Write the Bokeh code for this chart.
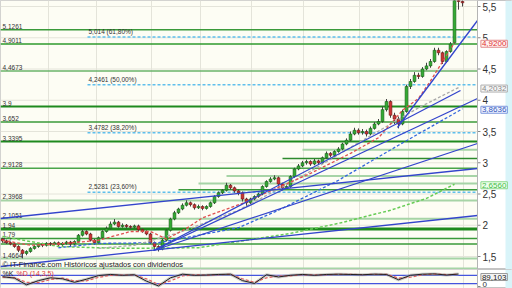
from bokeh.plotting import figure
from bokeh.models import Range1d, Span, Label, BoxAnnotation
from bokeh.layouts import column
from bokeh.embed import file_html
from bokeh.resources import INLINE
from bokeh.core.properties import value

# ---------------- data ----------------
opens = [1.78,1.75,1.72,1.70,1.66,1.60,1.55,1.58,1.63,1.66,1.70,1.68,1.71,1.70,1.72,1.69,1.71,1.73,1.70,1.74,
         1.84,1.90,1.86,1.76,1.72,1.80,1.90,1.95,2.02,2.05,1.98,2.00,1.98,1.97,1.99,1.93,1.90,1.86,1.72,1.66,
         1.62,1.76,1.92,2.10,2.20,2.26,2.32,2.36,2.33,2.28,2.30,2.27,2.30,2.36,2.46,2.52,2.56,2.64,2.60,2.55,
         2.52,2.42,2.36,2.42,2.46,2.50,2.62,2.70,2.74,2.76,2.66,2.60,2.62,2.78,2.90,2.95,3.00,3.02,2.98,3.03,
         3.00,3.08,3.15,3.12,3.18,3.22,3.30,3.36,3.46,3.52,3.48,3.50,3.46,3.55,3.62,3.66,3.85,3.98,3.76,3.70,
         3.62,3.82,4.22,4.30,4.40,4.38,4.50,4.55,4.62,4.80,4.76,4.62,4.78,4.92,5.60,5.58]
closes = [1.75,1.72,1.70,1.66,1.60,1.55,1.58,1.63,1.66,1.70,1.68,1.71,1.70,1.72,1.69,1.71,1.73,1.70,1.74,1.84,
          1.90,1.86,1.76,1.72,1.80,1.90,1.95,2.02,2.05,1.98,2.00,1.98,1.97,1.99,1.93,1.90,1.86,1.72,1.66,1.62,
          1.76,1.92,2.10,2.20,2.26,2.32,2.36,2.33,2.28,2.30,2.27,2.30,2.36,2.46,2.52,2.56,2.64,2.60,2.55,2.52,
          2.42,2.36,2.42,2.46,2.50,2.62,2.70,2.74,2.76,2.66,2.60,2.62,2.78,2.90,2.95,3.00,3.02,2.98,3.03,3.00,
          3.08,3.15,3.12,3.18,3.22,3.30,3.36,3.46,3.52,3.48,3.50,3.46,3.55,3.62,3.66,3.85,3.98,3.76,3.70,3.62,
          3.82,4.22,4.30,4.40,4.38,4.50,4.55,4.62,4.80,4.76,4.62,4.78,4.90,5.62,5.58,5.56]
highs = [1.80,1.77,1.74,1.71,1.68,1.62,1.60,1.65,1.68,1.72,1.72,1.73,1.73,1.74,1.74,1.73,1.75,1.75,1.76,1.86,
         1.93,1.92,1.88,1.78,1.82,1.92,1.98,2.06,2.10,2.07,2.03,2.02,2.00,2.01,2.01,1.95,1.92,1.88,1.74,1.68,
         1.78,1.94,2.12,2.23,2.28,2.35,2.40,2.38,2.35,2.33,2.32,2.32,2.38,2.48,2.54,2.58,2.68,2.66,2.62,2.57,
         2.54,2.44,2.44,2.48,2.52,2.64,2.72,2.77,2.80,2.78,2.68,2.64,2.80,2.92,2.98,3.03,3.05,3.04,3.06,3.05,
         3.10,3.18,3.17,3.20,3.25,3.32,3.39,3.50,3.56,3.55,3.54,3.53,3.58,3.65,3.70,3.90,4.02,4.00,3.80,3.74,
         3.85,4.25,4.34,4.45,4.44,4.53,4.60,4.66,4.84,4.84,4.78,4.80,4.93,5.66,5.64,5.60]
lows = [1.72,1.70,1.68,1.64,1.57,1.47,1.52,1.56,1.61,1.64,1.65,1.66,1.67,1.68,1.66,1.67,1.69,1.65,1.68,1.72,
        1.82,1.84,1.74,1.69,1.70,1.78,1.88,1.93,2.00,1.96,1.96,1.95,1.94,1.95,1.90,1.88,1.84,1.70,1.62,1.58,
        1.60,1.74,1.90,2.08,2.18,2.24,2.30,2.30,2.25,2.26,2.24,2.25,2.28,2.34,2.44,2.50,2.54,2.57,2.52,2.48,
        2.38,2.30,2.34,2.40,2.44,2.48,2.60,2.68,2.72,2.62,2.56,2.58,2.60,2.76,2.88,2.93,2.97,2.95,2.96,2.97,
        2.98,3.06,3.09,3.10,3.16,3.20,3.28,3.34,3.44,3.45,3.45,3.42,3.44,3.53,3.60,3.64,3.82,3.72,3.62,3.55,
        3.60,3.80,4.18,4.28,4.34,4.36,4.48,4.52,4.60,4.72,4.58,4.60,4.76,4.90,5.45,5.50]

month_starts = [11.5, 23.5, 37.25, 49.5, 62.25, 75.25, 89.25, 101.5, 115.25]
price_ticks = [1.5, 2, 2.5, 3, 3.5, 4, 4.5, 5, 5.5]
price_tick_labels = ["1,5", "2", "2,5", "3", "3,5", "4", "4,5", "5", "5,5"]

level_values = [5.1261, 4.9011, 4.4673, 3.9, 3.652, 3.3395, 2.9128, 2.3968, 2.1051, 1.94, 1.79, 1.7, 1.4664, 1.31]
level_labels = ["5,1261", "4,9011", "4,4673", "3,9", "3,652", "3,3395", "2,9128", "2,3968", "2,1051",
                "1,94", "1,79", "1,7", "1,4664", ""]
level_colors = ["#3a9a3a", "#2e9a2e", "#6ab36a", "#1e8a1e", "#3a9a3a", "#1e8a1e", "#4aa54a", "#a6d4a6",
                "#a6d4a6", "#1e8a1e", "#3a9a3a", "#3a9a3a", "#a6d4a6", "#a6d4a6"]
level_widths = [1.5, 1.5, 1.5, 2, 1.5, 2, 1.5, 2, 2, 3, 1.5, 1.5, 2, 2]

seg_start = [70, 75, 56, 49, 44]
seg_level = [3.07, 3.21, 2.79, 2.67, 2.57]
seg_colors = ["#2e8b2e", "#a6d4a6", "#a6d4a6", "#a6d4a6", "#3a9a3a"]
seg_widths = [1.5, 2, 2, 2, 1.5]

fib_start = 21.25
fib_values = [5.014, 4.2461, 3.4782, 2.5281]
fib_labels = ["5,014 (61,80%)", "4,2461 (50,00%)", "3,4782 (38,20%)", "2,5281 (23,60%)"]

trend_x0 = [-0.5, -0.5, 37.75, 37.75, 37.75, 98.75]
trend_y0 = [1.34, 2.108, 1.596, 1.596, 1.596, 3.564]
trend_x1 = [118.75, 118.75, 118.75, 118.75, 114.5, 118.75]
trend_y1 = [2.156, 2.908, 3.308, 4.028, 4.156, 5.276]

ma_red_x = [0, 7, 14, 24, 32, 37, 41, 46, 50, 60, 67, 77, 87, 94, 100, 104, 107, 113]
ma_red_y = [1.76, 1.68, 1.70, 1.76, 1.90, 1.90, 1.78, 1.95, 2.12, 2.35, 2.55, 2.83, 3.15, 3.40, 3.84, 4.03, 4.31, 4.92]
ma_gray_x = [24, 33, 44, 59, 74, 89, 104, 114]
ma_gray_y = [1.63, 1.68, 1.88, 2.24, 2.75, 3.32, 3.88, 4.2032]
ma_blue_x = [14, 24, 39, 59, 69, 84, 99, 115]
ma_blue_y = [1.64, 1.71, 1.72, 1.96, 2.24, 2.72, 3.28, 3.8636]
ma_green_x = [0, 14, 29, 49, 72, 84, 97, 106, 113]
ma_green_y = [1.82, 1.66, 1.63, 1.64, 1.87, 2.03, 2.24, 2.43, 2.656]

right_labels = ["4,9200", "4,2032", "3,8636", "2,6560"]
right_values = [4.92, 4.2032, 3.8636, 2.656]

stoch_x = list(range(0, 115, 3))
stoch_k = [70, 60, 12, 42, 62, 55, 30, 52, 78, 86, 80, 84, 38, 4, 62, 88, 80, 82, 86, 88,
           42, 22, 84, 68, 80, 86, 80, 86, 88, 86, 84, 88, 86, 48, 80, 88, 90, 82, 89.103]
stoch_d = [66, 64, 30, 28, 50, 60, 40, 40, 65, 80, 82, 82, 55, 15, 40, 75, 84, 81, 84, 87,
           55, 30, 62, 75, 76, 84, 82, 84, 87, 87, 85, 87, 87, 60, 66, 84, 89, 85, 87]
stoch_levels = [80, 20]
stoch_ticks = [0]
stoch_tick_labels = ["0"]
stoch_value_label = "89,103"

# ---------------- layout constants ----------------
FONT = "Liberation Sans"
X0, XEND = -0.5, 118.75          # chart area (data units)
XR = Range1d(-0.5, 127.5)        # whole 512px width incl. price scale
LBL_X = 120.0
IVORY = "#fdfdf4"
CYAN = "#d9f4f9"


def base_fig(height, yr):
    f = figure(width=512, height=height, x_range=XR, y_range=yr, output_backend="svg",
               toolbar_location=None, x_axis_location=None, y_axis_location=None,
               min_border_left=0, min_border_right=0, min_border_top=0, min_border_bottom=0)
    f.background_fill_color = "white"
    f.border_fill_color = "white"
    f.outline_line_color = "#c4c4c4"
    f.grid.visible = False
    f.add_layout(BoxAnnotation(right=XEND, fill_color=IVORY, fill_alpha=1, line_color=None, level="underlay"))
    f.add_layout(BoxAnnotation(left=125.75, fill_color=CYAN, fill_alpha=1, line_color=None, level="underlay"))
    f.segment(x0=month_starts, y0=[yr.start] * len(month_starts), x1=month_starts,
              y1=[yr.end] * len(month_starts), line_color="#e4e4da", line_width=1)
    f.add_layout(Span(location=XEND, dimension="height", line_color="#b4b4b4", line_width=1))
    return f


# ---------------- main chart ----------------
yr = Range1d(1.292, 5.596)
p = base_fig(269, yr)
n_t = len(price_ticks)
p.segment(x0=[X0] * n_t, y0=price_ticks, x1=[XEND] * n_t, y1=price_ticks, line_color="#e4e4da", line_width=1)

n_l = len(level_values)
p.segment(x0=[X0] * n_l, y0=level_values, x1=[XEND] * n_l, y1=level_values,
          line_color=level_colors, line_width=level_widths)
p.segment(x0=seg_start, y0=seg_level, x1=[XEND] * len(seg_start), y1=seg_level,
          line_color=seg_colors, line_width=seg_widths)
p.segment(x0=[fib_start] * len(fib_values), y0=fib_values, x1=[XEND] * len(fib_values),
          y1=fib_values, line_color="#5fbfec", line_width=1.5, line_dash="3 2")

p.text(x=[0] * n_l, y=level_values, text=level_labels, text_font=value(FONT),
       text_font_size="6.5px", text_color="#333333", text_baseline="bottom", y_offset=-1)
p.text(x=[fib_start + 0.25] * len(fib_values), y=fib_values, text=fib_labels, text_font=value(FONT),
       text_font_size="6.5px", text_color="#333333", text_baseline="bottom", y_offset=-2)

idx = list(range(len(closes)))
inc = [i for i in idx if closes[i] >= opens[i]]
dec = [i for i in idx if closes[i] < opens[i]]
p.segment(x0=idx, y0=lows, x1=idx, y1=highs, line_color="#444444", line_width=1)
p.vbar(x=inc, width=0.7, top=[closes[i] for i in inc], bottom=[opens[i] for i in inc],
       fill_color="#33aa33", line_color="#1a5e1a", line_width=0.6)
p.vbar(x=dec, width=0.7, top=[opens[i] for i in dec], bottom=[closes[i] for i in dec],
       fill_color="#cc3333", line_color="#6e1a1a", line_width=0.6)

p.line(ma_green_x, ma_green_y, line_color="#66cc55", line_width=1.5, line_dash="3 2")
p.line(ma_blue_x, ma_blue_y, line_color="#3366dd", line_width=1.3, line_dash="3 2")
p.line(ma_gray_x, ma_gray_y, line_color="#aaaaaa", line_width=1.3, line_dash="3 2")
p.line(ma_red_x, ma_red_y, line_color="#e05050", line_width=1.3, line_dash="3 2")

p.segment(x0=trend_x0, y0=trend_y0, x1=trend_x1, y1=trend_y1, line_color="#3344cc", line_width=1.3)

# price scale (right)
p.segment(x0=[XEND] * n_t, y0=price_ticks, x1=[XEND + 0.75] * n_t, y1=price_ticks, line_color="#888888")
p.text(x=[LBL_X] * n_t, y=price_ticks, text=price_tick_labels, text_font=value(FONT),
       text_font_size="10px", text_color="#333333", text_baseline="middle")

box_styles = [("#e03030", "#fff2f2", "#e08a8a"), ("#888888", "#f6f6f6", "#b0b0b0"),
              ("#3355bb", "#eef3ff", "#7d98dd"), ("#44bb44", "#ecffec", "#8ad88a")]
for t, v, (tc, fc, bc) in zip(right_labels, right_values, box_styles):
    p.add_layout(Label(x=119.6, y=v, text=t, text_font=FONT, text_font_size="8px", text_color=tc,
                       text_baseline="middle", background_fill_color=fc, border_line_color=bc,
                       padding=1, y_offset=-1))

p.add_layout(Label(x=0, y=1.372, text="\u00a9 IT-Finance.com  Hist\u00f3ricos ajustados con dividendos",
                   text_font=FONT, text_font_size="7.5px", text_color="#222222", text_baseline="middle"))

# ---------------- indicator ----------------
q = base_fig(19, Range1d(-14.3, 121.4))
for lv in stoch_levels:
    q.segment(x0=[X0], y0=[lv], x1=[XEND], y1=[lv], line_color="#4455dd", line_width=1.3)
q.line(stoch_x, stoch_k, line_color="#aaaaaa", line_width=3, line_alpha=0.6)
q.line(stoch_x, stoch_d, line_color="#e06060", line_width=1.2, line_dash="3 2")
q.line(stoch_x, stoch_k, line_color="#222222", line_width=1)
q.segment(x0=[XEND] * len(stoch_ticks), y0=stoch_ticks, x1=[XEND + 0.75] * len(stoch_ticks),
          y1=stoch_ticks, line_color="#888888")
q.text(x=[LBL_X] * len(stoch_ticks), y=stoch_ticks, text=stoch_tick_labels, text_font=value(FONT),
       text_font_size="8px", text_color="#333333", text_baseline="bottom", y_offset=1)
q.add_layout(Label(x=0, y=90, text="%K", text_font=FONT, text_font_size="7px",
                   text_color="#222222", text_baseline="middle"))
q.add_layout(Label(x=3.5, y=90, text="%D (14,3,5)", text_font=FONT, text_font_size="7px",
                   text_color="#e03a3a", text_baseline="middle"))
q.add_layout(Label(x=119.6, y=stoch_k[-1], text=stoch_value_label, text_font=FONT, text_font_size="8px",
                   text_color="#222222", text_baseline="middle", background_fill_color="#f4f4f4",
                   border_line_color="#999999", padding=1, y_offset=-3))

layout = column(p, q, spacing=0)
open("out.html", "w").write(file_html(layout, INLINE))
